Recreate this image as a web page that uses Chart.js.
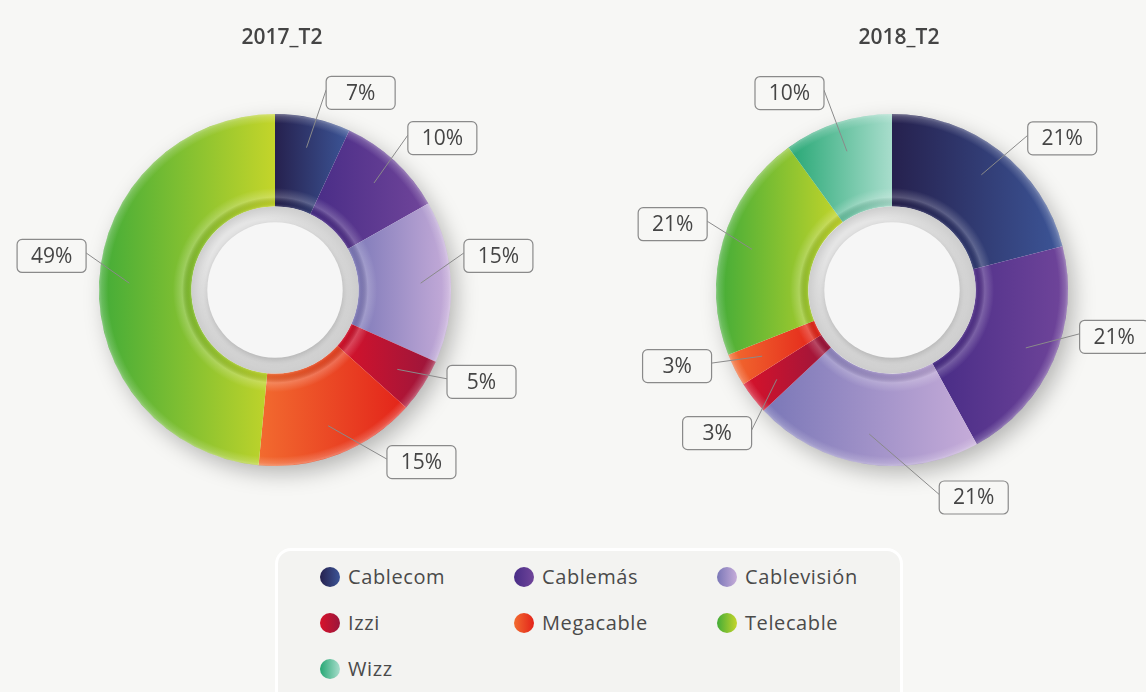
<!DOCTYPE html>
<html>
<head>
<meta charset="utf-8">
<script src="https://cdn.jsdelivr.net/npm/chart.js@4"></script>
<style>
  body { margin: 0; background: #f7f7f5; width: 1146px; height: 692px; overflow: hidden; position: relative; font-family: 'Open Sans', sans-serif; }
  canvas { position: absolute; top: 0; }
  #c2017 { left: 0; }
  #c2018 { left: 573px; }
  #legend {
    position: absolute; left: 275px; top: 548px; width: 622px; height: 160px;
    background: #f3f3f1; border: 3px solid #ffffff; border-radius: 16px;
  }
  .item { position: absolute; display: flex; align-items: center; font-size: 20px; letter-spacing: 0.6px; color: #4a4a4a; }
  .dot { width: 20px; height: 20px; border-radius: 50%; margin-right: 8px; }
</style>
</head>
<body>
<canvas id="c2017" width="573" height="540"></canvas>
<canvas id="c2018" width="573" height="540"></canvas>
<div id="legend"></div>
<script>
// data
const companies = ['Cablecom', 'Cablemás', 'Cablevisión', 'Izzi', 'Megacable', 'Telecable', 'Wizz']
const periods = ['2017_T2', '2018_T2']
const share2017 = [7, 10, 15, 5, 15, 49, 0]
const share2018 = [21, 21, 21, 3, 3, 21, 10]

// left / right colour of each slice gradient
const sliceColors = [
  ['#26214e', '#3c5597'],
  ['#482c86', '#70459a'],
  ['#7a77b7', '#c6acd9'],
  ['#d8122a', '#9a163c'],
  ['#f26b2f', '#e3231a'],
  ['#43ac38', '#c4d52a'],
  ['#26a774', '#a8ddcc']
]

// callout boxes: turn (degrees) away from the slice middle, distance past the ring
const calloutTurn2017 = [11, 5, -6, -9, -19, 6, 0]
const calloutGap2017 = [39, 50, 50, 50, 50, 50, 50]
const calloutTurn2018 = [10.5, -11.5, -30.5, -1.5, 7.5, 0.5, -9.5]
const calloutGap2018 = [52, 51, 47, 50, 52, 53, 46]

const bg = '#f7f7f5'

function arcXRange(cx, r0, r1, a0, a1) {
  let min = Infinity, max = -Infinity
  for (let i = 0; i <= 48; i++) {
    const a = a0 + (a1 - a0) * i / 48
    for (const r of [r0, r1]) {
      const x = cx + r * Math.cos(a)
      min = Math.min(min, x)
      max = Math.max(max, x)
    }
  }
  return [min, max]
}

function sliceAngles(values, index) {
  const total = values.reduce((s, v) => s + v, 0)
  let before = 0
  for (let i = 0; i < index; i++) before += values[i]
  const a0 = -Math.PI / 2 + before / total * Math.PI * 2
  return [a0, a0 + values[index] / total * Math.PI * 2]
}

// horizontal gradient across every slice
function sliceFill(context) {
  const chart = context.chart
  const area = chart.chartArea
  const stops = sliceColors[context.dataIndex]
  if (!area) return stops[0]
  const ctrl = chart.getDatasetMeta(context.datasetIndex).controller
  const [a0, a1] = sliceAngles(context.dataset.data, context.dataIndex)
  const cx = (area.left + area.right) / 2
  const [x0, x1] = arcXRange(cx, ctrl.innerRadius || 80, ctrl.outerRadius || 170, a0, a1)
  const g = chart.ctx.createLinearGradient(x0, 0, x1 + 0.01, 0)
  g.addColorStop(0, stops[0])
  g.addColorStop(1, stops[1])
  return g
}

function roundRect(ctx, x, y, w, h, r) {
  ctx.beginPath()
  ctx.moveTo(x + r, y)
  ctx.arcTo(x + w, y, x + w, y + h, r)
  ctx.arcTo(x + w, y + h, x, y + h, r)
  ctx.arcTo(x, y + h, x, y, r)
  ctx.arcTo(x, y, x + w, y, r)
  ctx.closePath()
}

const ringDecor = {
  id: 'ringDecor',
  beforeDatasetsDraw(chart) {
    const arc = chart.getDatasetMeta(0).data[0]
    const ctx = chart.ctx
    const { x, y, outerRadius } = arc.getProps(['x', 'y', 'outerRadius'], true)
    // soft drop shadow under the ring
    ctx.save()
    ctx.shadowColor = 'rgba(0,0,0,0.28)'
    ctx.shadowBlur = 22
    ctx.shadowOffsetX = 6
    ctx.shadowOffsetY = 8
    ctx.beginPath()
    ctx.arc(x, y, outerRadius - 1, 0, Math.PI * 2)
    ctx.fillStyle = bg
    ctx.fill()
    ctx.restore()
  },
  afterDatasetsDraw(chart, args, opts) {
    const meta = chart.getDatasetMeta(0)
    const ctx = chart.ctx
    const { x, y, outerRadius, innerRadius } = meta.data[0].getProps(['x', 'y', 'outerRadius', 'innerRadius'], true)

    // bevel: light rim near both edges of the ring
    ctx.save()
    const bevel = ctx.createRadialGradient(x, y, innerRadius, x, y, outerRadius)
    bevel.addColorStop(0, 'rgba(255,255,255,0.15)')
    bevel.addColorStop(0.03, 'rgba(0,0,0,0.06)')
    bevel.addColorStop(0.1, 'rgba(255,255,255,0.22)')
    bevel.addColorStop(0.2, 'rgba(255,255,255,0)')
    bevel.addColorStop(0.9, 'rgba(255,255,255,0)')
    bevel.addColorStop(0.97, 'rgba(255,255,255,0.18)')
    bevel.addColorStop(1, 'rgba(255,255,255,0.35)')
    ctx.beginPath()
    ctx.arc(x, y, outerRadius, 0, Math.PI * 2)
    ctx.arc(x, y, innerRadius, 0, Math.PI * 2, true)
    ctx.fillStyle = bevel
    ctx.fill()

    // grey inset ring and white centre
    const hole = ctx.createRadialGradient(x - 10, y - 12, innerRadius * 0.7, x, y, innerRadius)
    hole.addColorStop(0, '#e6e6e6')
    hole.addColorStop(1, '#cdcdcd')
    ctx.beginPath()
    ctx.arc(x, y, innerRadius, 0, Math.PI * 2)
    ctx.fillStyle = hole
    ctx.fill()
    ctx.shadowColor = 'rgba(0,0,0,0.18)'
    ctx.shadowBlur = 6
    ctx.shadowOffsetY = 2
    ctx.beginPath()
    ctx.arc(x, y, innerRadius * 0.81, 0, Math.PI * 2)
    ctx.fillStyle = '#f6f6f6'
    ctx.fill()
    ctx.restore()

    // title
    ctx.save()
    ctx.fillStyle = '#444444'
    ctx.font = '600 21px "Open Sans"'
    ctx.textAlign = 'center'
    ctx.textBaseline = 'middle'
    ctx.fillText(opts.title, x + 7, 38)
    ctx.restore()

    // callouts
    const values = chart.data.datasets[0].data
    const anchorR = (innerRadius + outerRadius) / 2 + 16
    const bw = 69, bh = 33
    ctx.save()
    ctx.font = '21px "Open Sans"'
    ctx.textAlign = 'center'
    ctx.textBaseline = 'middle'
    values.forEach((v, i) => {
      if (!v) return
      const [a0, a1] = sliceAngles(values, i)
      const mid = (a0 + a1) / 2
      const turned = mid + opts.turn[i] * Math.PI / 180
      const boxR = outerRadius + opts.gap[i]
      const ax = x + anchorR * Math.cos(mid)
      const ay = y + anchorR * Math.sin(mid)
      const bx = x + boxR * Math.cos(turned)
      const by = y + boxR * Math.sin(turned)
      const ex = bx > x ? bx - bw / 2 : bx + bw / 2
      ctx.strokeStyle = '#8a8a8a'
      ctx.lineWidth = 1
      ctx.beginPath()
      ctx.moveTo(ax, ay)
      ctx.lineTo(ex, by - 3)
      ctx.stroke()
      roundRect(ctx, bx - bw / 2, by - bh / 2, bw, bh, 5)
      ctx.fillStyle = bg
      ctx.fill()
      ctx.lineWidth = 1.2
      ctx.stroke()
      ctx.fillStyle = '#454545'
      ctx.fillText(v + '%', bx, by + 1)
    })
    ctx.restore()
  }
}

function makeChart(id, values, title, turn, gap, padding) {
  return new Chart(document.getElementById(id).getContext('2d'), {
    type: 'doughnut',
    data: {
      labels: companies,
      datasets: [{
        data: values,
        backgroundColor: sliceFill,
        borderWidth: 0,
        hoverOffset: 0
      }]
    },
    options: {
      responsive: false,
      animation: false,
      events: [],
      cutout: '47.5%',
      layout: { padding: padding },
      plugins: {
        legend: { display: false },
        tooltip: { enabled: false },
        ringDecor: { title: title, turn: turn, gap: gap }
      }
    },
    plugins: [ringDecor]
  })
}

makeChart('c2017', share2017, periods[0], calloutTurn2017, calloutGap2017, { left: 99, right: 122, top: 114, bottom: 74 })
makeChart('c2018', share2018, periods[1], calloutTurn2018, calloutGap2018, { left: 143, right: 78, top: 114, bottom: 74 })

// legend
const legend = document.getElementById('legend')
const colX = [42, 236, 439]
const rowY = [12, 58, 104]
companies.forEach((name, i) => {
  const item = document.createElement('div')
  item.className = 'item'
  item.style.left = colX[i % 3] + 'px'
  item.style.top = rowY[Math.floor(i / 3)] + 'px'
  const dot = document.createElement('span')
  dot.className = 'dot'
  dot.style.background = 'linear-gradient(to right, ' + sliceColors[i][0] + ', ' + sliceColors[i][1] + ')'
  item.appendChild(dot)
  item.appendChild(document.createTextNode(name))
  legend.appendChild(item)
})
</script>
</body>
</html>
